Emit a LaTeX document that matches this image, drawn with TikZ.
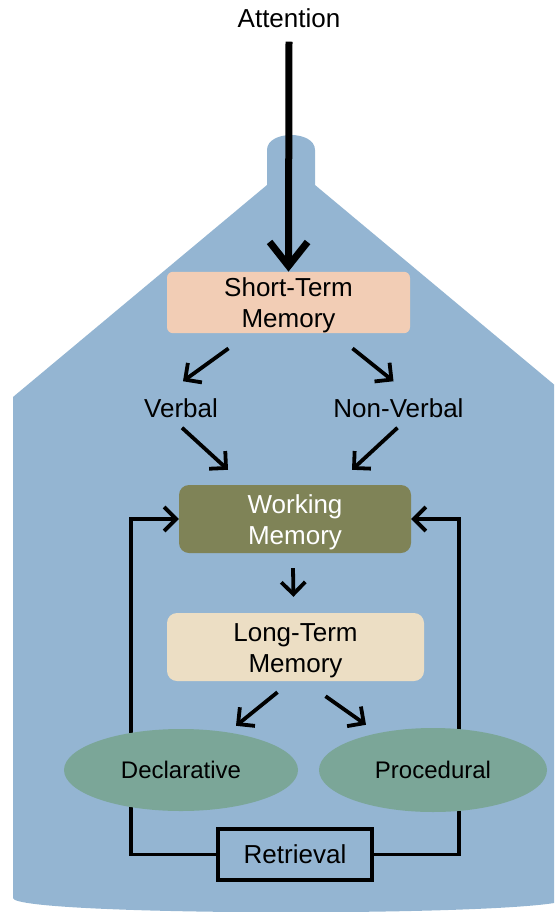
\documentclass[tikz,border=0pt]{standalone}
\usepackage{fontspec}
\setmainfont{Liberation Sans}
\usetikzlibrary{arrows.meta,shapes.geometric}

\definecolor{bluebg}{RGB}{148,181,210}
\definecolor{peach}{RGB}{242,205,181}
\definecolor{cream}{RGB}{236,222,196}
\definecolor{olive}{RGB}{127,131,87}
\definecolor{teal}{RGB}{123,166,152}

% taller first line, so two-line box texts sit a little lower
\newcommand{\toprule}{\rule{0pt}{25pt}}

\tikzset{
  big/.style={font=\fontsize{26}{31}\selectfont},
  small/.style={font=\fontsize{24}{29}\selectfont},
  membox/.style={big, align=center, inner sep=0pt, draw=none},
  label/.style={big, inner sep=0pt},
  oval/.style={ellipse, small, fill=teal, inner sep=0pt},
  arr/.style={line width=3.8pt, -{Straight Barb[length=12pt,width=24pt]}},
  bigarr/.style={line width=7pt, -{Straight Barb[length=24pt,width=38pt]}},
  loop/.style={line width=3.8pt, -{Straight Barb[length=12pt,width=24pt]}},
}

\begin{document}
\begin{tikzpicture}[x=1pt,y=-1pt]
\useasboundingbox (0,0) rectangle (554,912);

% funnel-shaped background
\begin{scope}
  \clip (0,0) rectangle (554,912);
  \fill[bluebg] (13,898) -- (13,397) -- (267,185) -- (267,150)
    .. controls (267,130) and (315,130) .. (315,150)
    -- (315,185) -- (569,397) -- (569,898)
    .. controls (569,917) and (13,917) .. (13,898) -- cycle;
\end{scope}

% labels and boxes
\node[label] (att) at (289,18) {Attention};
\node[membox, fill=peach, rounded corners=6pt, minimum width=243pt, minimum height=51pt]
  (stm) at (288.5,302.5) {\toprule Short-Term\\Memory};
\node[label] (verbal) at (181,408) {Verbal};
\node[label] (nonverbal) at (398.5,408) {Non-Verbal};
\node[membox, fill=olive, text=white, rounded corners=10pt, minimum width=232pt, minimum height=68pt]
  (wm) at (295,519) {\toprule Working\\Memory};
\node[membox, fill=cream, rounded corners=10pt, minimum width=257pt, minimum height=68pt]
  (ltm) at (295.5,647) {\toprule Long-Term\\Memory};
\node[label, draw, line width=3.8pt, minimum width=154pt, minimum height=51pt]
  (ret) at (295,854.5) {Retrieval};

% retrieval feedback loops (behind the ovals)
\draw[loop] (ret.west) -- ++(-85,0) |- (wm.west);
\draw[loop] (ret.east) -- ++(85,0) |- (wm.east);

\node[oval, minimum width=234pt, minimum height=82pt] (decl) at (181,770) {Declarative};
\node[oval, minimum width=228pt, minimum height=84pt] (proc) at (433,770) {Procedural};

% flow arrows
\draw[bigarr] ([shift={(0,14)}]att.south) -- (stm.north);
\draw[arr] ([shift={(-60,15)}]stm.south) -- ([shift={(2,-17)}]verbal.north);
\draw[arr] ([shift={(64,15)}]stm.south) -- ([shift={(-5,-17)}]nonverbal.north);
\draw[arr] ([shift={(1,10)}]verbal.south) -- ([shift={(-67,-15)}]wm.north);
\draw[arr] ([shift={(-1,10)}]nonverbal.south) -- ([shift={(57,-15)}]wm.north);
\draw[arr] ([shift={(-2,15)}]wm.south) -- ([shift={(-2,-16)}]ltm.north);
\draw[arr] ([shift={(-18,11)}]ltm.south) -- ([shift={(55,-3)}]decl.north);
\draw[arr] ([shift={(30,15)}]ltm.south) -- ([shift={(-67,-3)}]proc.north);
\end{tikzpicture}
\end{document}
